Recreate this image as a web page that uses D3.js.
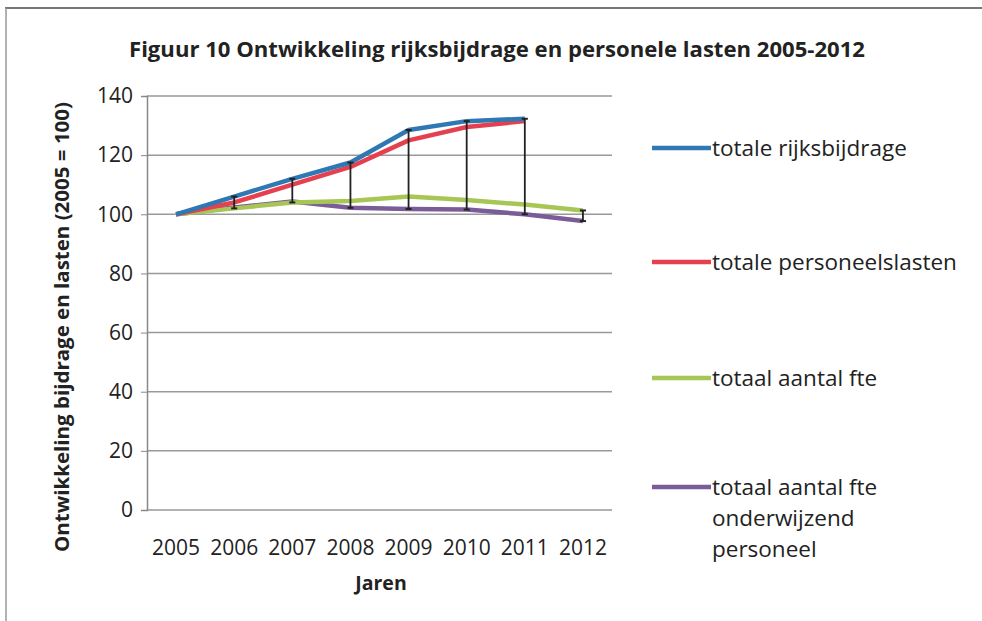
<!DOCTYPE html>
<html>
<head>
<meta charset="utf-8">
<script src="https://cdn.jsdelivr.net/npm/d3@7"></script>
<style>
  body { margin: 0; background: #fff; }
  text { font-family: "Open Sans", "Noto Sans", sans-serif; fill: #222; }
</style>
</head>
<body>
<svg id="chart" width="982" height="621"></svg>
<script>
const years = ["2005", "2006", "2007", "2008", "2009", "2010", "2011", "2012"];
const rijksbijdrage = [100, 106, 112, 117.5, 128.5, 131.5, 132.3, null];
const personeelslasten = [100, 104, 110, 116, 125, 129.5, 131.5, null];
const fteTotaal = [100, 102, 104, 104.5, 106, 104.8, 103.3, 101.3];
const fteOnderwijzend = [100, 102.3, 104.3, 102.2, 101.8, 101.6, 100, 97.7];
const yTicks = [0, 20, 40, 60, 80, 100, 120, 140];

const series = [
  { name: ["totale rijksbijdrage"], values: rijksbijdrage, color: "#2f78b4" },
  { name: ["totale personeelslasten"], values: personeelslasten, color: "#e5404f" },
  { name: ["totaal aantal fte"], values: fteTotaal, color: "#a8c655" },
  { name: ["totaal aantal fte", "onderwijzend", "personeel"], values: fteOnderwijzend, color: "#7a5c98" },
];

const svg = d3.select("#chart");

// frame lines
svg.append("line").attr("x1", 5).attr("x2", 982).attr("y1", 8).attr("y2", 8)
  .attr("stroke", "#777").attr("stroke-width", 2);
svg.append("line").attr("x1", 6).attr("x2", 6).attr("y1", 8).attr("y2", 621)
  .attr("stroke", "#999").attr("stroke-width", 1.5);

svg.append("text").attr("x", 497).attr("y", 57).attr("text-anchor", "middle")
  .style("font-size", "21.5px").style("font-weight", "bold")
  .attr("textLength", 736).attr("lengthAdjust", "spacingAndGlyphs")
  .text("Figuur 10 Ontwikkeling rijksbijdrage  en personele lasten 2005-2012");

const x = d3.scaleBand().domain(years).range([147, 612]);
const y = d3.scaleLinear().domain([0, 140]).range([510, 96]);

// gridlines
svg.append("g").selectAll("line").data(yTicks).join("line")
  .attr("x1", 147).attr("x2", 612)
  .attr("y1", (d) => y(d)).attr("y2", (d) => y(d))
  .attr("stroke", "#999").attr("stroke-width", 1.5);

const yAxis = d3.axisLeft(y).tickValues(yTicks).tickSize(6).tickPadding(8);
const gy = svg.append("g").attr("transform", "translate(147,0)").call(yAxis);
gy.select(".domain").attr("stroke", "#888").attr("stroke-width", 1.5);
gy.selectAll(".tick line").attr("stroke", "#888");
gy.selectAll("text").style("font-size", "21px").attr("fill", "#222");

const xAxis = d3.axisBottom(x).tickSize(0).tickPadding(30);
const gx = svg.append("g").attr("transform", "translate(0,510)").call(xAxis);
gx.select(".domain").remove();
gx.selectAll("text").style("font-size", "21px").attr("fill", "#222");

svg.append("text").attr("x", 381).attr("y", 590).attr("text-anchor", "middle")
  .style("font-size", "19.5px").style("font-weight", "bold").text("Jaren");

svg.append("text")
  .attr("transform", "translate(69,327) rotate(-90)")
  .attr("text-anchor", "middle")
  .style("font-size", "20px").style("font-weight", "bold")
  .attr("textLength", 450).attr("lengthAdjust", "spacingAndGlyphs")
  .text("Ontwikkeling bijdrage en lasten (2005 = 100)");

const cx = (i) => x(years[i]) + x.bandwidth() / 2;

const line = d3.line()
  .defined((d) => d != null)
  .x((d, i) => cx(i))
  .y((d) => y(d));

// draw lines from last to first so blue lies on top
[...series].reverse().forEach((s) => {
  svg.append("path").datum(s.values)
    .attr("fill", "none")
    .attr("stroke", s.color)
    .attr("stroke-width", 4.5)
    .attr("stroke-linejoin", "round")
    .attr("d", line);
});

// high-low lines
const hiLo = years.map((yr, i) => {
  const vals = series.map((s) => s.values[i]).filter((v) => v != null);
  return { i: i, hi: d3.max(vals), lo: d3.min(vals) };
}).filter((d) => d.hi - d.lo > 0.5);

const hl = svg.append("g");
hl.selectAll("line.v").data(hiLo).join("line").attr("class", "v")
  .attr("x1", (d) => cx(d.i)).attr("x2", (d) => cx(d.i))
  .attr("y1", (d) => y(d.hi)).attr("y2", (d) => y(d.lo))
  .attr("stroke", "#222").attr("stroke-width", 1.8);
hl.selectAll("line.t").data(hiLo.flatMap((d) => [[d.i, d.hi], [d.i, d.lo]])).join("line").attr("class", "t")
  .attr("x1", (d) => cx(d[0]) - 3).attr("x2", (d) => cx(d[0]) + 3)
  .attr("y1", (d) => y(d[1])).attr("y2", (d) => y(d[1]))
  .attr("stroke", "#222").attr("stroke-width", 2);

// legend
const legendY = [148, 262, 378, 487];
const lg = svg.append("g").selectAll("g").data(series).join("g")
  .attr("transform", (d, i) => "translate(652," + legendY[i] + ")");
lg.append("line").attr("x1", 0).attr("x2", 59).attr("y1", 0).attr("y2", 0)
  .attr("stroke", (d) => d.color).attr("stroke-width", 4.5);
lg.each(function (d) {
  const t = d3.select(this).append("text").attr("x", 60).attr("y", 8)
    .style("font-size", "22.5px");
  d.name.forEach((n, k) => {
    t.append("tspan").attr("x", 60).attr("dy", k === 0 ? 0 : 31).text(n);
  });
});
</script>
</body>
</html>
